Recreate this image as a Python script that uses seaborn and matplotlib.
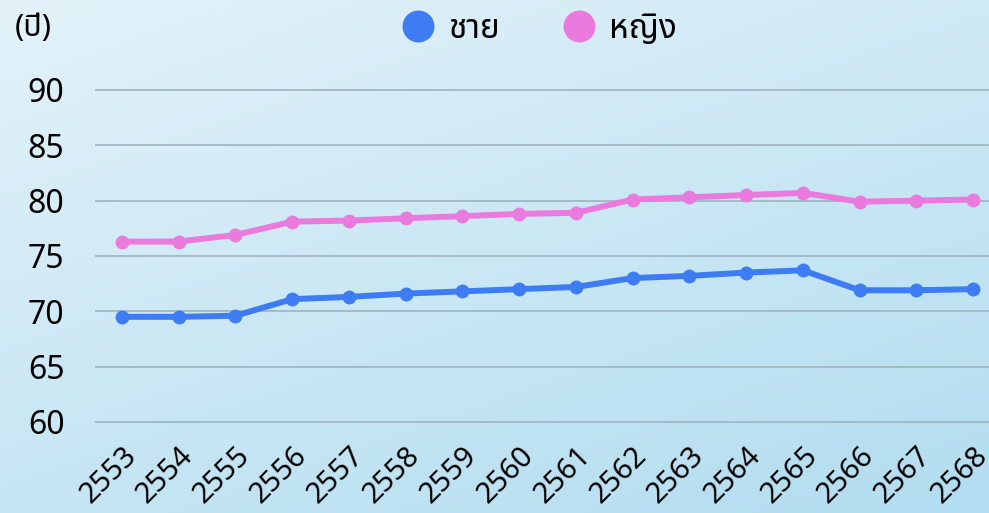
import numpy as np
import pandas as pd
import matplotlib.pyplot as plt
import seaborn as sns
import matplotlib.transforms as mtransforms
from matplotlib.colors import LinearSegmentedColormap

years = list(range(2553, 2569))
male = [69.5, 69.5, 69.6, 71.1, 71.3, 71.6, 71.8, 72.0, 72.2, 73.0, 73.2, 73.5, 73.7, 71.9, 71.9, 72.0]
female = [76.3, 76.3, 76.9, 78.1, 78.2, 78.4, 78.6, 78.8, 78.9, 80.1, 80.3, 80.5, 80.7, 79.9, 80.0, 80.1]
series_names = ['ชาย', 'หญิง']
colors = ['#3d7cf3', '#ea7ade']
yticks = [60, 65, 70, 75, 80, 85, 90]

df = pd.DataFrame({
    'year': years * 2,
    'value': male + female,
    'sex': [series_names[0]] * len(years) + [series_names[1]] * len(years),
})

sns.set_style('white')
fams = ['Noto Sans Thai', 'Noto Sans', 'DejaVu Sans']
plt.rcParams['font.family'] = fams
plt.rcParams['text.color'] = 'black'
plt.rcParams['xtick.color'] = 'black'
plt.rcParams['ytick.color'] = 'black'

fig = plt.figure(figsize=(9.89, 5.13), dpi=100)

# background gradient
bg = fig.add_axes([0, 0, 1, 1], zorder=-10)
gx, gy = np.meshgrid(np.linspace(0, 1, 200), np.linspace(0, 1, 120))
grad = 0.6 * gy + 0.4 * gx
cmap = LinearSegmentedColormap.from_list('bg', ['#e3f2f9', '#b2ddf0'])
bg.imshow(grad, cmap=cmap, aspect='auto', extent=[0, 1, 0, 1], origin='upper')
bg.axis('off')

ax = fig.add_axes([95 / 989, 1 - 440 / 513, 1 - 95 / 989, 360 / 513])
ax.patch.set_alpha(0)

sns.lineplot(data=df, x='year', y='value', hue='sex', palette=colors,
             marker='o', markersize=10, markeredgewidth=0, linewidth=4.3,
             legend=False, ax=ax)
for ln in ax.lines:
    ln.set_solid_joinstyle('round')
    ln.set_solid_capstyle('round')

ax.set_xlim(years[0] - 0.476, years[-1] + 0.28)
ax.set_ylim(58.37, 90.9)
ax.set_yticks(yticks)
ax.set_xticks(years)
ax.set_xticklabels([str(y) for y in years], rotation=45, ha='right',
                   rotation_mode='anchor', fontsize=21)
shift = mtransforms.ScaledTranslation(10 / 100, 0, fig.dpi_scale_trans)
for lbl in ax.get_xticklabels():
    lbl.set_transform(lbl.get_transform() + shift)
ax.tick_params(axis='y', labelsize=23, length=0, pad=22)
ax.tick_params(axis='x', length=0, pad=1)
ax.grid(axis='y', color='#9fb3bf', linewidth=1.2)
ax.grid(axis='x', visible=False)
sns.despine(ax=ax, left=True, bottom=True)
ax.set_xlabel('')
ax.set_ylabel('')

fig.text(15 / 989, 1 - 28 / 513, '(ปี)', fontsize=22, va='center', ha='left', family=fams)

handles = [plt.Line2D([], [], linestyle='', marker='o', markersize=23,
                      markerfacecolor=c, markeredgewidth=0) for c in colors]
fig.legend(handles, series_names, loc='center', bbox_to_anchor=(539 / 989, 1 - 29 / 513),
           ncol=2, frameon=False, handlelength=1.0, handletextpad=0.4, columnspacing=1.9,
           prop={'family': fams, 'size': 24})

fig.savefig('out.png', dpi=100)
